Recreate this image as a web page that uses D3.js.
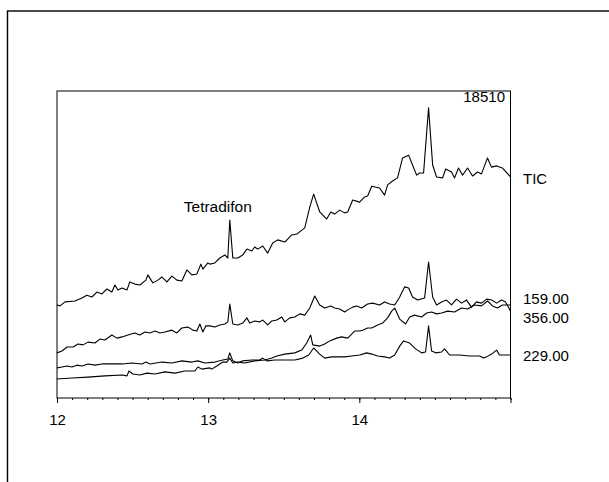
<!DOCTYPE html>
<html>
<head>
<meta charset="utf-8">
<script src="https://cdn.jsdelivr.net/npm/d3@7"></script>
<style>
  html, body { margin: 0; padding: 0; background: #fff; }
  svg { display: block; }
  text { font-family: "Liberation Sans", Arial, sans-serif; fill: #000; }
</style>
</head>
<body>
<svg id="chart" width="609" height="482"></svg>
<script>
// Retention time (min) and relative response for each ion trace
const ticTrace = [
  [12.000,30.3],[12.020,30.0],[12.053,31.3],[12.119,31.6],[12.165,32.6],[12.198,33.5],[12.231,32.9],
  [12.264,34.5],[12.297,33.9],[12.330,35.5],[12.363,34.5],[12.383,36.8],[12.403,35.2],[12.430,35.8],
  [12.463,35.2],[12.482,37.8],[12.515,37.1],[12.548,36.8],[12.588,38.4],[12.601,40.1],[12.634,37.5],
  [12.667,38.4],[12.694,39.4],[12.727,37.8],[12.760,39.7],[12.793,38.4],[12.826,38.1],[12.859,41.7],
  [12.892,40.1],[12.925,40.4],[12.952,43.6],[12.965,42.0],[12.998,44.0],[13.011,43.6],[13.044,44.0],
  [13.077,45.6],[13.110,46.6],[13.130,45.6],[13.143,58.0],[13.163,45.6],[13.196,45.6],[13.229,46.6],
  [13.256,48.5],[13.289,47.9],[13.308,49.2],[13.328,48.5],[13.361,49.5],[13.394,47.2],[13.427,50.5],
  [13.460,51.5],[13.507,50.8],[13.553,53.1],[13.586,53.4],[13.639,55.4],[13.672,62.2],[13.698,66.4],
  [13.738,60.6],[13.784,58.3],[13.811,60.6],[13.837,59.9],[13.870,61.2],[13.903,60.3],[13.923,60.6],
  [13.956,64.5],[14.002,63.8],[14.035,65.5],[14.055,65.8],[14.082,69.0],[14.134,68.4],[14.167,66.1],
  [14.187,69.4],[14.220,70.7],[14.253,71.7],[14.286,78.2],[14.326,79.1],[14.352,75.9],[14.379,72.6],
  [14.399,73.3],[14.425,73.3],[14.458,94.5],[14.485,75.9],[14.511,72.0],[14.551,71.7],[14.571,74.6],
  [14.610,73.6],[14.630,71.7],[14.656,74.9],[14.683,72.6],[14.716,74.9],[14.749,72.3],[14.782,73.6],
  [14.808,73.0],[14.848,78.2],[14.874,75.2],[14.908,75.6],[14.947,74.9],[15.000,72.0]
];

const ion159Trace = [
  [12.000,14.7],[12.033,15.3],[12.066,16.6],[12.106,16.6],[12.139,17.6],[12.172,17.3],[12.205,18.2],
  [12.251,17.9],[12.284,19.2],[12.317,18.9],[12.363,20.5],[12.396,19.5],[12.430,19.9],[12.469,20.5],
  [12.515,21.2],[12.548,20.5],[12.582,21.5],[12.615,21.2],[12.648,21.8],[12.681,21.2],[12.714,21.5],
  [12.760,22.1],[12.793,21.2],[12.826,22.8],[12.866,23.1],[12.899,22.1],[12.925,21.8],[12.945,24.1],
  [12.965,21.5],[12.985,23.5],[13.011,23.5],[13.044,23.1],[13.077,23.8],[13.110,24.1],[13.130,24.8],
  [13.143,30.6],[13.163,24.1],[13.196,23.8],[13.229,24.4],[13.256,26.1],[13.275,24.4],[13.308,25.1],
  [13.341,24.8],[13.361,25.4],[13.394,23.8],[13.421,25.1],[13.454,25.4],[13.487,26.4],[13.507,24.8],
  [13.540,26.1],[13.573,26.4],[13.606,27.4],[13.639,27.0],[13.672,29.3],[13.705,33.2],[13.738,30.3],
  [13.771,29.3],[13.811,30.0],[13.837,29.3],[13.870,29.0],[13.903,28.0],[13.923,28.7],[13.956,29.6],
  [13.982,30.0],[14.015,29.3],[14.055,30.6],[14.088,30.9],[14.134,30.3],[14.167,31.3],[14.200,30.6],
  [14.234,30.3],[14.267,32.9],[14.300,36.2],[14.326,35.8],[14.352,32.9],[14.386,31.9],[14.432,32.6],
  [14.458,44.3],[14.485,32.9],[14.511,30.3],[14.544,31.3],[14.577,31.9],[14.610,30.3],[14.643,32.2],
  [14.676,30.9],[14.709,31.9],[14.742,29.6],[14.775,31.3],[14.808,30.9],[14.842,32.2],[14.875,31.9],
  [14.908,30.9],[14.941,31.9],[14.967,31.3],[15.000,28.3]
];

const ion356Trace = [
  [12.000,6.2],[12.099,6.5],[12.205,6.8],[12.317,7.2],[12.430,7.5],[12.463,7.2],[12.476,8.8],
  [12.502,7.8],[12.548,7.5],[12.595,8.1],[12.648,7.8],[12.714,8.5],[12.780,8.1],[12.846,8.8],
  [12.912,8.8],[12.932,10.1],[12.958,9.4],[13.011,9.8],[13.024,9.4],[13.057,10.4],[13.097,11.7],
  [13.123,11.7],[13.143,13.0],[13.163,11.4],[13.196,11.7],[13.242,11.4],[13.308,12.1],[13.374,12.4],
  [13.421,13.0],[13.454,13.7],[13.507,14.3],[13.573,14.7],[13.619,15.6],[13.652,17.9],[13.678,20.5],
  [13.692,17.3],[13.738,16.9],[13.771,17.6],[13.804,18.6],[13.850,19.5],[13.883,19.9],[13.923,19.5],
  [13.969,21.8],[14.002,21.8],[14.022,22.1],[14.055,22.8],[14.082,22.8],[14.121,23.8],[14.154,24.4],
  [14.187,26.1],[14.214,28.3],[14.234,29.3],[14.267,25.7],[14.306,24.1],[14.333,26.4],[14.366,27.0],
  [14.412,26.4],[14.445,27.7],[14.478,28.0],[14.511,27.4],[14.544,27.7],[14.584,28.3],[14.630,28.0],
  [14.676,29.3],[14.716,29.0],[14.762,30.3],[14.808,30.0],[14.848,31.6],[14.881,30.0],[14.914,29.3],
  [14.947,30.3],[15.000,30.3]
];

const ion229Trace = [
  [12.000,9.8],[12.033,10.1],[12.066,10.4],[12.099,10.1],[12.132,10.7],[12.165,10.4],[12.205,11.1],
  [12.251,10.7],[12.297,11.1],[12.363,11.1],[12.430,11.1],[12.496,11.4],[12.562,11.1],[12.588,11.7],
  [12.615,11.1],[12.694,11.7],[12.760,11.4],[12.826,12.1],[12.892,11.7],[12.932,12.1],[12.978,11.4],
  [13.044,11.7],[13.097,12.4],[13.130,12.7],[13.143,14.7],[13.163,12.1],[13.196,11.4],[13.229,12.1],
  [13.289,12.4],[13.341,12.4],[13.361,13.0],[13.388,12.1],[13.441,12.4],[13.507,12.4],[13.573,12.4],
  [13.626,13.0],[13.665,14.0],[13.698,16.3],[13.738,14.3],[13.771,13.0],[13.817,13.4],[13.857,13.4],
  [13.903,13.4],[13.949,13.7],[14.002,14.0],[14.049,14.7],[14.082,14.3],[14.121,13.7],[14.167,13.4],
  [14.200,13.0],[14.234,14.0],[14.267,16.9],[14.293,18.6],[14.333,17.9],[14.372,16.0],[14.412,14.7],
  [14.438,15.0],[14.458,23.5],[14.478,15.3],[14.505,14.7],[14.544,15.0],[14.564,16.0],[14.597,14.0],
  [14.663,14.0],[14.729,13.7],[14.795,13.7],[14.822,13.0],[14.842,13.4],[14.875,14.3],[14.908,15.6],
  [14.927,14.0],[14.961,14.0],[15.000,14.0]
];

const traceNames = ["TIC", "159.00", "356.00", "229.00"];
const traceLabelLevels = [69.7, 30.6, 24.4, 12.0];   // label baselines in response units
const xTickLabels = [12, 13, 14];
const xMajorTicks = [12, 13, 14, 15];
const peakLabel = { text: "Tetradifon", time: 13.143 };
const fullScaleLabel = "18510";

const svg = d3.select("#chart");
const W = 609, H = 482;
const plot = { left: 57, right: 510.5, top: 91, bottom: 398 };

// page frame
svg.append("rect")
  .attr("x", 7.5).attr("y", 11)
  .attr("width", W + 20).attr("height", H + 20)
  .attr("fill", "none").attr("stroke", "#000").attr("stroke-width", 1.4);

const x = d3.scaleLinear().domain([12, 15]).range([plot.left, plot.right]);
const y = d3.scaleLinear().domain([0, 100]).range([plot.bottom, plot.top]);

// plot box
svg.append("rect")
  .attr("x", plot.left).attr("y", plot.top)
  .attr("width", plot.right - plot.left).attr("height", plot.bottom - plot.top)
  .attr("fill", "none").attr("stroke", "#000").attr("stroke-width", 1);

// minor ticks every 0.1 min
const minor = d3.range(120, 151).map(d => d / 10);
const axisG = svg.append("g").attr("transform", `translate(0,${plot.bottom})`);
axisG.call(d3.axisBottom(x).tickValues(minor).tickSize(2).tickFormat(""))
  .call(g => g.select(".domain").remove())
  .selectAll("line").attr("stroke", "#000");
const majorG = svg.append("g").attr("transform", `translate(0,${plot.bottom})`);
majorG.call(d3.axisBottom(x).tickValues(xMajorTicks).tickSize(5)
    .tickFormat(d => xTickLabels.includes(d) ? String(d) : ""))
  .call(g => g.select(".domain").remove());
majorG.selectAll("line").attr("stroke", "#000");
majorG.selectAll("text")
  .attr("y", 0).attr("dy", null)
  .attr("transform", "translate(0,27)")
  .style("font-size", "15px")
  .style("font-family", "'Liberation Sans', Arial, sans-serif")
  .attr("fill", "#000");

// traces
const line = d3.line().x(d => x(d[0])).y(d => y(d[1]));
const traces = [ticTrace, ion159Trace, ion356Trace, ion229Trace];
svg.append("g")
  .selectAll("path")
  .data(traces)
  .join("path")
  .attr("d", line)
  .attr("fill", "none")
  .attr("stroke", "#000")
  .attr("stroke-width", 1.1)
  .attr("stroke-linejoin", "round");

// trace names at the right edge
svg.append("g")
  .selectAll("text")
  .data(traceNames)
  .join("text")
  .attr("x", plot.right + 12.5)
  .attr("y", (d, i) => y(traceLabelLevels[i]))
  .style("font-size", "15px")
  .text(d => d);

// full-scale value
svg.append("text")
  .attr("x", plot.right - 5.5)
  .attr("y", plot.top + 11)
  .attr("text-anchor", "end")
  .style("font-size", "15px")
  .text(fullScaleLabel);

// peak annotation
const peakTop = d3.max(ticTrace.filter(d => Math.abs(d[0] - peakLabel.time) < 0.01), d => d[1]);
svg.append("text")
  .attr("x", x(peakLabel.time) - 46)
  .attr("y", y(peakTop) - 7.5)
  .style("font-size", "15.5px")
  .text(peakLabel.text);
</script>
</body>
</html>
